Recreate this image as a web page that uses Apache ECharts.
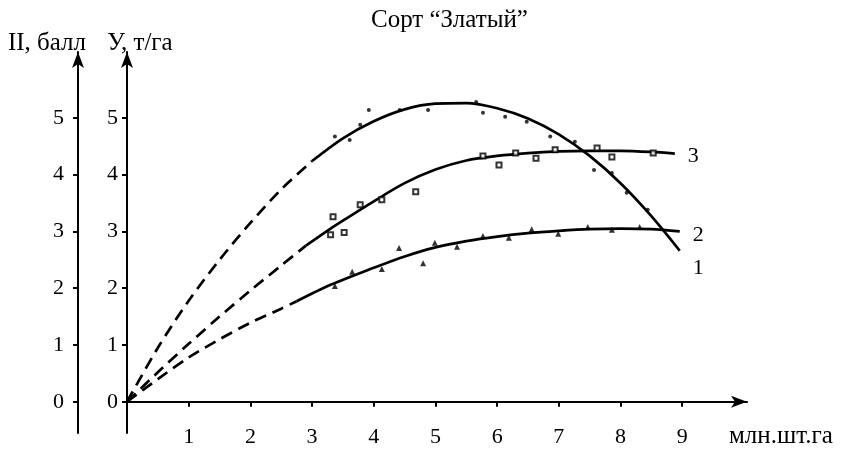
<!DOCTYPE html>
<html><head><meta charset="utf-8">
<script src="https://cdn.jsdelivr.net/npm/echarts@6/dist/echarts.min.js"></script>
<style>html,body{margin:0;padding:0;background:#fff}#c{width:844px;height:452px}</style>
</head><body><div id="c"></div>
<script>
// x ticks and y ticks
const xTicks = [1,2,3,4,5,6,7,8,9];
const yTicks = [0,1,2,3,4,5];

// Curve 1 (dashed extrapolation + fitted solid curve)
const dash1X = [0, 0.5, 1, 1.5, 2, 2.5, 3.0];
const dash1Y = [0, 0.95, 1.78, 2.5, 3.15, 3.74, 4.24];
const fit1X = [3.0, 3.5, 4, 4.5, 5, 5.5, 6, 6.5, 7, 7.5, 8, 8.5, 8.96];
const fit1Y = [4.24, 4.64, 4.94, 5.15, 5.25, 5.26, 5.17, 4.99, 4.71, 4.33, 3.85, 3.27, 2.66];
const pts1X = [3.37, 3.61, 3.78, 3.92, 4.42, 4.88, 5.66, 5.77, 6.13, 6.48, 6.86, 7.26, 7.57, 7.86, 8.10, 8.44];
const pts1Y = [4.67, 4.61, 4.88, 5.14, 5.14, 5.14, 5.28, 5.09, 5.02, 4.93, 4.67, 4.58, 4.08, 4.03, 3.68, 3.38];

// Curve 3
const dash3X = [0, 0.5, 1, 1.5, 2, 2.5, 2.9];
const dash3Y = [0, 0.52, 1.02, 1.5, 1.96, 2.4, 2.75];
const fit3X = [2.9, 3.3, 3.5, 4, 4.5, 5, 5.5, 6, 6.5, 7, 7.5, 8, 8.5, 8.88];
const fit3Y = [2.75, 3.05, 3.19, 3.53, 3.85, 4.09, 4.25, 4.33, 4.38, 4.41, 4.42, 4.42, 4.40, 4.37];
const pts3X = [3.30, 3.34, 3.52, 3.78, 4.13, 4.68, 5.77, 6.03, 6.30, 6.63, 6.94, 7.62, 7.86, 8.53];
const pts3Y = [2.94, 3.26, 2.98, 3.47, 3.56, 3.70, 4.33, 4.17, 4.38, 4.29, 4.44, 4.47, 4.31, 4.38];

// Curve 2
const dash2X = [0, 0.5, 1, 1.5, 2, 2.5, 2.75];
const dash2Y = [0, 0.4, 0.78, 1.1, 1.39, 1.64, 1.77];
const fit2X = [2.75, 3.3, 4, 4.5, 5, 5.5, 6, 6.5, 7, 7.5, 8, 8.5, 8.96];
const fit2Y = [1.77, 2.06, 2.36, 2.56, 2.72, 2.83, 2.91, 2.97, 3.01, 3.04, 3.05, 3.04, 3.0];
const pts2X = [3.37, 3.65, 4.13, 4.41, 4.80, 4.99, 5.35, 5.77, 6.19, 6.56, 6.99, 7.47, 7.86, 8.31];
const pts2Y = [2.04, 2.29, 2.34, 2.71, 2.44, 2.80, 2.73, 2.92, 2.89, 3.04, 2.96, 3.08, 3.03, 3.08];

const zip = (a, b) => a.map((v, i) => [v, b[i]]);
const FONT = '"Liberation Serif", "DejaVu Serif", serif';
const BLACK = '#000';
const NUM = 22, TXT = 25;

function lineSeries(x, y, dashed, label, offset) {
  const s = {
    type: 'line', data: zip(x, y), showSymbol: false, smooth: 0.3,
    lineStyle: {color: BLACK, width: 2.7, type: dashed ? [12, 7] : 'solid'},
    silent: true, z: 3
  };
  if (label) {
    s.endLabel = {show: true, formatter: label, color: BLACK, fontFamily: FONT, fontSize: NUM, offset: offset};
  }
  return s;
}
function ptsSeries(x, y, symbol, size) {
  return {type: 'scatter', data: zip(x, y), symbol: symbol, symbolSize: size,
    itemStyle: {color: BLACK}, silent: true, z: 4};
}
function yAxisDef(name, offset, pad, margin) {
  return {
    type: 'value', min: -0.55, max: 6.16, position: 'left', offset: offset,
    name: name, nameLocation: 'end', nameGap: -4, nameMoveOverlap: false,
    nameTextStyle: {fontFamily: FONT, fontSize: TXT, color: BLACK, padding: pad},
    axisLine: {onZero: false, lineStyle: {color: BLACK, width: 2}, symbol: ['none', 'arrow'], symbolSize: [9, 16]},
    axisTick: {show: true, length: 5, lineStyle: {color: BLACK, width: 2}, customValues: yTicks},
    axisLabel: {customValues: yTicks, margin: margin, color: BLACK, fontFamily: FONT, fontSize: NUM},
    splitLine: {show: false}
  };
}

const chart = echarts.init(document.getElementById('c'), null, {renderer: 'canvas'});
chart.setOption({
  animation: false,
  backgroundColor: '#fff',
  title: {text: 'Сорт “Златый”', left: 366, top: 3,
    textStyle: {fontFamily: FONT, fontSize: TXT, fontWeight: 'normal', color: BLACK}},
  grid: {left: 127, right: 97, top: 52, bottom: 19, outerBoundsMode: 'none', containLabel: false},
  xAxis: {
    type: 'value', min: 0, max: 10.05,
    axisLine: {onZero: true, lineStyle: {color: BLACK, width: 2}, symbol: ['none', 'arrow'], symbolSize: [9, 16]},
    axisTick: {show: true, length: 5, lineStyle: {color: BLACK, width: 2}, customValues: xTicks},
    axisLabel: {customValues: xTicks, margin: -7, color: BLACK, fontFamily: FONT, fontSize: NUM},
    splitLine: {show: false}
  },
  yAxis: [
    yAxisDef('У, т/га', 0, [0, 0, 0, 26], 9),
    yAxisDef('II, балл', 49, [0, 62, 0, 0], 14)
  ],
  graphic: [{
    type: 'text', left: 729, top: 424,
    style: {text: 'млн.шт.га', fontFamily: FONT, fontSize: TXT, fill: BLACK}
  }],
  series: [
    lineSeries(dash1X, dash1Y, true),
    lineSeries(fit1X, fit1Y, false, '1', [5, 17]),
    ptsSeries(pts1X, pts1Y, 'circle', 4),
    lineSeries(dash3X, dash3Y, true),
    lineSeries(fit3X, fit3Y, false, '3', [5, 3]),
    ptsSeries(pts3X, pts3Y, 'emptyRect', 5),
    lineSeries(dash2X, dash2Y, true),
    lineSeries(fit2X, fit2Y, false, '2', [5, 4]),
    ptsSeries(pts2X, pts2Y, 'triangle', 6)
  ]
});
</script></body></html>
